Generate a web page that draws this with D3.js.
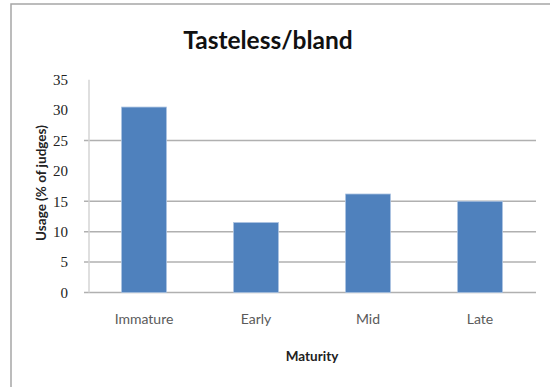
<!DOCTYPE html>
<html>
<head>
<meta charset="utf-8">
<script src="https://cdn.jsdelivr.net/npm/d3@7"></script>
<style>
  html, body { margin: 0; padding: 0; background: #fff; }
  svg { display: block; }
</style>
</head>
<body>
<svg id="chart" width="550" height="387"></svg>
<script>
// Share of judges using the descriptor "Tasteless/bland" by maturity stage
const categories = ["Immature", "Early", "Mid", "Late"];
const usage = [30.5, 11.5, 16.2, 15];
const yTicks = [0, 5, 10, 15, 20, 25, 30, 35];
const gridValues = [0, 5, 10, 15, 25];

const svg = d3.select("#chart");
const plot = { left: 88, right: 536, top: 79.7, bottom: 292.5 };

// outer chart frame
svg.append("rect")
  .attr("x", 11).attr("y", 4)
  .attr("width", 700).attr("height", 700)
  .attr("fill", "none").attr("stroke", "#a6a6a6").attr("stroke-width", 1.5);

const x = d3.scaleBand()
  .domain(categories)
  .range([plot.left, plot.right])
  .paddingInner(0.6)
  .paddingOuter(0.3);

const y = d3.scaleLinear()
  .domain([0, 35])
  .range([plot.bottom, plot.top]);

// horizontal gridlines
svg.append("g")
  .selectAll("line")
  .data(gridValues)
  .join("line")
  .attr("x1", plot.left - 4).attr("x2", plot.right)
  .attr("y1", d => y(d)).attr("y2", d => y(d))
  .attr("stroke", "#b0b0b0").attr("stroke-width", 1.5);

// y axis line
svg.append("line")
  .attr("x1", plot.left + 1).attr("x2", plot.left + 1)
  .attr("y1", plot.top).attr("y2", plot.bottom)
  .attr("stroke", "#d4d4d4").attr("stroke-width", 1.5);

// y tick labels
const yAxis = d3.axisLeft(y).tickValues(yTicks).tickSize(0).tickPadding(0);
const yg = svg.append("g")
  .attr("transform", `translate(${plot.left - 20},0)`)
  .attr("font-family", null)
  .call(yAxis);
yg.select(".domain").remove();
yg.selectAll("text")
  .style("font-family", "'Liberation Serif', 'DejaVu Serif', serif")
  .style("font-size", "15px")
  .attr("fill", "#222");

// bars
svg.append("g")
  .selectAll("rect")
  .data(categories.map((c, i) => ({ c, v: usage[i] })))
  .join("rect")
  .attr("x", d => x(d.c))
  .attr("y", d => y(d.v))
  .attr("width", x.bandwidth())
  .attr("height", d => y(0) - y(d.v))
  .attr("fill", "#4f81bd")
  .attr("stroke", "#a9c1e0")
  .attr("stroke-width", 0.8);

// x category labels
const xAxis = d3.axisBottom(x).tickSize(0).tickPadding(0);
const xg = svg.append("g")
  .attr("transform", `translate(0,${plot.bottom + 22})`)
  .call(xAxis);
xg.select(".domain").remove();
xg.selectAll("text")
  .style("font-family", "Lato, 'Open Sans', sans-serif")
  .style("font-size", "14px")
  .attr("fill", "#5a5a5a");

// chart title
svg.append("text")
  .attr("x", 268).attr("y", 49)
  .attr("text-anchor", "middle")
  .attr("font-family", "Lato, sans-serif")
  .attr("font-weight", "bold")
  .attr("font-size", 24.5)
  .attr("fill", "#111")
  .text("Tasteless/bland");

// axis titles
svg.append("text")
  .attr("x", (plot.left + plot.right) / 2).attr("y", 361)
  .attr("text-anchor", "middle")
  .attr("font-family", "Lato, sans-serif")
  .attr("font-weight", "bold")
  .attr("font-size", 13.5)
  .attr("fill", "#222")
  .text("Maturity");

svg.append("text")
  .attr("transform", "translate(46,183) rotate(-90)")
  .attr("text-anchor", "middle")
  .attr("font-family", "Lato, sans-serif")
  .attr("font-weight", "bold")
  .attr("font-size", 13.5)
  .attr("fill", "#222")
  .text("Usage (% of judges)");
</script>
</body>
</html>
